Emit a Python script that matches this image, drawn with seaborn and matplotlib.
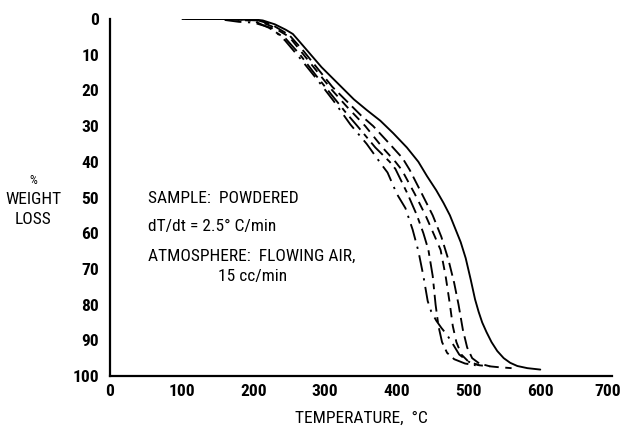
import matplotlib
matplotlib.use("Agg")
import matplotlib.pyplot as plt
import matplotlib.transforms as mtransforms
import seaborn as sns
import pandas as pd
from matplotlib import font_manager as fm

sns.set_theme(style="white")

names = {f.name for f in fm.fontManager.ttflist}
family = "DejaVu Sans"
for cand in ["Liberation Sans Narrow", "Roboto Condensed", "Open Sans Condensed",
             "Liberation Sans", "Roboto"]:
    if cand in names:
        family = cand
        break
plt.rcParams["font.family"] = [family, "DejaVu Sans"]

# ---- data (temperature °C, % weight loss) ----
temp_a = [120, 160, 200, 213, 230, 245, 255, 265, 280, 295, 310, 325, 340, 358,
          377, 395, 414, 430, 442, 455, 465, 474, 482, 489, 496, 503, 509, 514,
          519, 525, 532, 540, 549, 558, 568, 582, 600]
loss_a = [0, 0, 0.1, 0.4, 1.5, 3, 4.2, 6.5, 10, 13.5, 16.5, 19.5, 22.5, 25.5,
          28.5, 32, 36, 40, 44, 48, 51.5, 55, 59, 62.5, 67, 73, 78.5, 82,
          85, 87.7, 90.5, 93, 95, 96.3, 97.2, 97.8, 98.2]

temp_b = [100, 160, 205, 225, 250, 270, 290, 310, 330, 350, 367, 390, 408, 418,
          435, 450, 462, 472, 480, 486, 492, 498, 505, 515, 530]
loss_b = [0, 0, 0.3, 1.5, 4.5, 9, 14, 19, 23, 27, 30, 35, 39, 42.3,
          49, 55, 61, 67.5, 74, 80, 87, 92, 95, 96.5, 97.3]

temp_c = [105, 160, 205, 225, 250, 270, 290, 310, 330, 356, 380, 398, 407, 425,
          440, 452, 461, 468, 474, 478, 483, 490, 500, 515, 540, 560]
loss_c = [0, 0, 0.4, 2, 5, 10, 15, 20, 24.5, 30, 36, 40, 42.3, 49,
          55, 60.5, 64.7, 72, 80, 86, 90.5, 94, 96, 97, 97.5, 97.8]

temp_d = [110, 160, 200, 222, 245, 265, 288, 308, 328, 345, 370, 390, 398, 415,
          428, 437, 444, 450, 454, 458, 463, 470, 480, 495, 510]
loss_d = [0, 0, 0.5, 2.5, 5.5, 10, 16, 21, 26, 30, 36, 40, 42, 49,
          55, 60, 64.7, 72, 80, 86, 90.5, 93.5, 95.3, 96.5, 97]

temp_e = [115, 150, 180, 200, 225, 244, 265, 289, 312, 335, 358, 378, 387, 400,
          412, 422, 430, 437, 443, 448, 455, 462, 470, 478, 487, 500, 515]
loss_e = [0, 0, 0.8, 1, 2.5, 6, 11, 17, 23, 29.5, 35, 40.6, 43, 49,
          53, 59, 65, 72, 79, 82, 84.5, 86.5, 88.5, 91, 94, 96, 97]

x_ticks = [0, 100, 200, 300, 400, 500, 600, 700]
y_ticks = [0, 10, 20, 30, 40, 50, 60, 70, 80, 90, 100]

series = [
    (temp_a, loss_a, "-"),
    (temp_b, loss_b, (0, (7, 3))),
    (temp_c, loss_c, (0, (5, 3.5))),
    (temp_d, loss_d, (0, (9, 3, 3, 3))),
    (temp_e, loss_e, (0, (9, 3.5, 1.2, 3.5))),
]

fig = plt.figure(figsize=(6.23, 4.26), dpi=100)
ax = fig.add_axes([110 / 623, 1 - 376 / 426, (612 - 110) / 623, (376 - 19) / 426])

for t, w, ls in series:
    df = pd.DataFrame({"T": t, "W": w})
    sns.lineplot(data=df, x="T", y="W", ax=ax, color="black", linestyle=ls,
                 linewidth=1.35, sort=False, estimator=None)

ax.set_xlim(0, 700)
ax.set_ylim(100, 0)
ax.set_xticks(x_ticks)
ax.set_yticks(y_ticks)
ax.set_xticklabels([str(v) for v in x_ticks], fontweight="bold")
ax.set_yticklabels([str(v) for v in y_ticks], fontweight="bold")
for s in ["top", "right"]:
    ax.spines[s].set_visible(False)
for s in ["left", "bottom"]:
    ax.spines[s].set_color("black")
    ax.spines[s].set_linewidth(1.6)
ax.tick_params(axis="both", direction="in", length=9, width=1.2, colors="black",
               labelsize=12.5, pad=6)
ax.tick_params(axis="y", pad=8)
ax.set_xlabel("")
ax.set_ylabel("")
ax.grid(False)

# nudge the last x tick label so it stays inside the canvas
last = ax.get_xticklabels()[-1]
last.set_transform(last.get_transform() +
                   mtransforms.ScaledTranslation(-4 / 100, 0, fig.dpi_scale_trans))

fs = 12.5


def txt(px, py, s, size=fs, ha="left"):
    fig.text(px / 623, 1 - py / 426, s, fontsize=size, ha=ha, va="center", color="black")


txt(148, 198, "SAMPLE:  POWDERED")
txt(148, 227, "dT/dt = 2.5° C/min")
txt(148, 256, "ATMOSPHERE:  FLOWING AIR,")
txt(218, 276, "15 cc/min")
txt(33, 180, "%", size=9, ha="center")
txt(33, 199, "WEIGHT", ha="center")
txt(33, 219, "LOSS", ha="center")
txt(361, 418, "TEMPERATURE,  °C", ha="center")

fig.savefig("out.png", dpi=100)
